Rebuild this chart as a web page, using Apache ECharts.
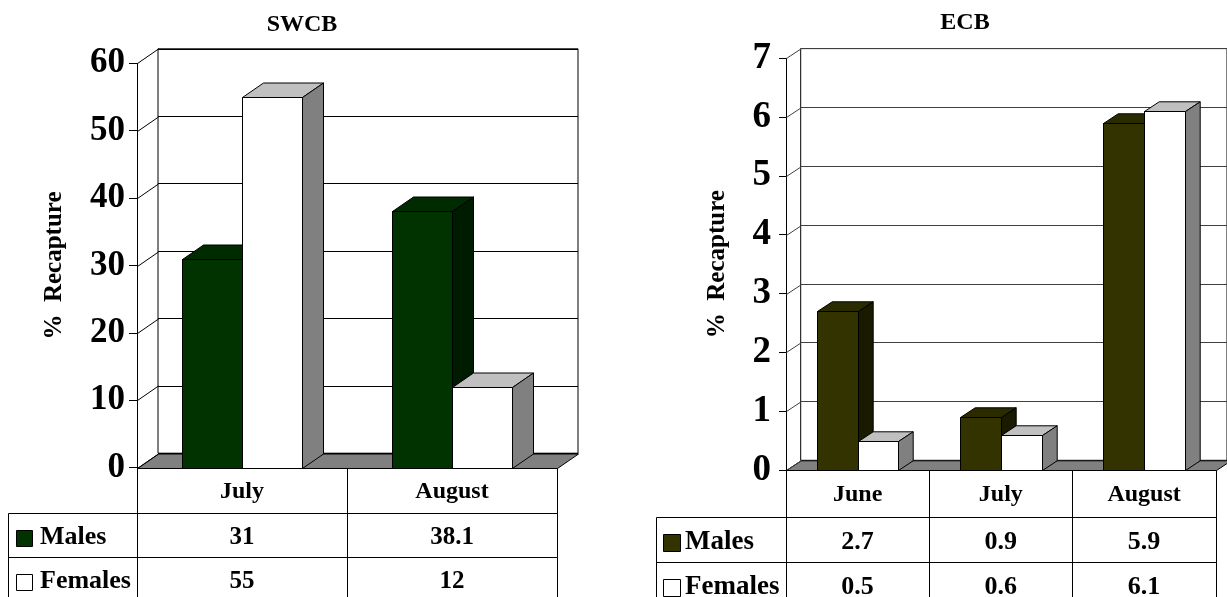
<!DOCTYPE html>
<html>
<head>
<meta charset="utf-8">
<script src="https://cdn.jsdelivr.net/npm/echarts@6/dist/echarts.min.js"></script>
<style>
  html, body { margin: 0; padding: 0; background: #fff; }
  #chart { width: 1227px; height: 597px; }
</style>
</head>
<body>
<div id="chart"></div>
<script>
// Recapture (%) of males and females, by month
const swcbMonths = ['July', 'August'];
const swcbMales = [31, 38.1];
const swcbFemales = [55, 12];
const swcbTicks = [0, 10, 20, 30, 40, 50, 60];

const ecbMonths = ['June', 'July', 'August'];
const ecbMales = [2.7, 0.9, 5.9];
const ecbFemales = [0.5, 0.6, 6.1];
const ecbTicks = [0, 1, 2, 3, 4, 5, 6, 7];

const seriesNames = ['Males', 'Females'];
const axisTitle = '%  Recapture';

const FONT = '"Liberation Serif", "Times New Roman", serif';
const px = v => Math.round(v) + 0.5;

const panels = [
  {
    title: 'SWCB', months: swcbMonths, males: swcbMales, females: swcbFemales, ticks: swcbTicks,
    front: { left: 137, top: 63.3, width: 420, height: 404.4 },
    depth: [21, 14.5], barFrac: 0.287,
    tickFont: 35, labelMargin: 12, tickLen: 8, nameGap: 70, nameFont: 25,
    titlePos: [302, 25],
    tableLeft: 8, rows: [45.6, 43.4, 44], catFont: 24, valFont: 25, legFont: 26,
    keyInset: 8, keySize: 16, textInset: 32,
    gridColor: '#000',
    maleFaces: ['#003300', '#002b00', '#001c00'],
    femaleFaces: ['#ffffff', '#c0c0c0', '#808080']
  },
  {
    title: 'ECB', months: ecbMonths, males: ecbMales, females: ecbFemales, ticks: ecbTicks,
    front: { left: 786, top: 58.3, width: 429.7, height: 411.7 },
    depth: [14.7, 9.7], barFrac: 0.284,
    tickFont: 37, labelMargin: 15, tickLen: 7, nameGap: 56, nameFont: 25,
    titlePos: [965, 23],
    tableLeft: 656, rows: [46.7, 45, 45], catFont: 24, valFont: 26, legFont: 27,
    keyInset: 7, keySize: 17, textInset: 29,
    gridColor: '#404040',
    maleFaces: ['#333300', '#2b2b00', '#1a1a00'],
    femaleFaces: ['#ffffff', '#c0c0c0', '#808080']
  }
];

function textEl(t, x, y, size, align) {
  return {
    type: 'text',
    style: {
      text: t, x: x, y: y, align: align || 'center', verticalAlign: 'middle',
      fontSize: size, fontWeight: 'bold', fontFamily: FONT, fill: '#000'
    }
  };
}

// floor slab and the short edges joining each front tick to the back wall
function frameRenderer(p) {
  return function (params, api) {
    const cs = params.coordSys;
    const dx = p.depth[0], dy = p.depth[1];
    const v = api.value(1);
    const y = px(api.coord([0, v])[1]);
    const x = px(cs.x);
    const children = [];
    if (v === p.ticks[0]) {
      const xr = px(cs.x + cs.width);
      children.push({
        type: 'polygon',
        shape: { points: [[x, y], [xr, y], [xr + dx, y - dy], [x + dx, y - dy]] },
        style: { fill: '#808080', stroke: '#000', lineWidth: 1 }
      });
    }
    children.push({
      type: 'line',
      shape: { x1: x, y1: y, x2: x + dx, y2: y - dy },
      style: { stroke: p.gridColor, lineWidth: 1 }
    });
    return { type: 'group', children: children };
  };
}

// one 3D column: front face, top face, right side face
function barRenderer(p, offset, faces) {
  return function (params, api) {
    const cat = api.value(0), val = api.value(1);
    const base = api.coord([cat, 0]);
    const top = api.coord([cat, val]);
    const w = api.size([1, 0])[0] * p.barFrac;
    const dx = p.depth[0], dy = p.depth[1];
    const x0 = px(base[0] + offset * w), x1 = px(base[0] + (offset + 1) * w);
    const y0 = px(base[1]), y1 = px(top[1]);
    const line = { stroke: '#000', lineWidth: 1 };
    return {
      type: 'group',
      children: [
        { type: 'polygon', shape: { points: [[x0, y1], [x1, y1], [x1, y0], [x0, y0]] },
          style: Object.assign({ fill: faces[0] }, line) },
        { type: 'polygon', shape: { points: [[x0, y1], [x0 + dx, y1 - dy], [x1 + dx, y1 - dy], [x1, y1]] },
          style: Object.assign({ fill: faces[1] }, line) },
        { type: 'polygon', shape: { points: [[x1, y1], [x1 + dx, y1 - dy], [x1 + dx, y0 - dy], [x1, y0]] },
          style: Object.assign({ fill: faces[2] }, line) }
      ]
    };
  };
}

// data table under the plot: month header, then one row per sex
function tableRenderer(p) {
  return function (params, api) {
    const cs = params.coordSys;
    const i = api.value(0);
    const c = api.coord([i, 0]);
    const w = api.size([1, 0])[0];
    const xL = px(c[0] - w / 2), xR = px(c[0] + w / 2);
    const y0 = cs.y + cs.height;
    const ys = [y0, y0 + p.rows[0], y0 + p.rows[0] + p.rows[1], y0 + p.rows[0] + p.rows[1] + p.rows[2]].map(px);
    const cell = (a, b, ya, yb) => ({
      type: 'rect', shape: { x: a, y: ya, width: b - a, height: yb - ya },
      style: { fill: 'none', stroke: '#000', lineWidth: 1 }
    });
    const children = [
      cell(xL, xR, ys[0], ys[1]),
      cell(xL, xR, ys[1], ys[2]),
      cell(xL, xR, ys[2], ys[3]),
      textEl(p.months[i], c[0], (ys[0] + ys[1]) / 2 + 1, p.catFont),
      textEl(String(api.value(1)), c[0], (ys[1] + ys[2]) / 2 + 2, p.valFont),
      textEl(String(api.value(2)), c[0], (ys[2] + ys[3]) / 2 + 2, p.valFont)
    ];
    if (params.dataIndex === 0) {
      const lx = px(p.tableLeft), ax = px(cs.x);
      const keyFaces = [p.maleFaces[0], p.femaleFaces[0]];
      for (let r = 0; r < 2; r++) {
        const ya = ys[r + 1], yb = ys[r + 2];
        const mid = (ya + yb) / 2 + 2;
        children.push(cell(lx, ax, ya, yb));
        children.push({
          type: 'rect',
          shape: { x: px(p.tableLeft + p.keyInset), y: px(mid - p.keySize / 2), width: p.keySize, height: p.keySize },
          style: { fill: keyFaces[r], stroke: '#000', lineWidth: 1 }
        });
        children.push(textEl(seriesNames[r], p.tableLeft + p.textInset, mid, p.legFont, 'left'));
      }
    }
    return { type: 'group', children: children };
  };
}

const option = {
  animation: false,
  backgroundColor: '#fff',
  grid: [], xAxis: [], yAxis: [], series: [], graphic: []
};

panels.forEach(function (p, k) {
  const back = 2 * k, front = 2 * k + 1;
  const yMin = p.ticks[0], yMax = p.ticks[p.ticks.length - 1], step = p.ticks[1] - p.ticks[0];

  // back wall, shifted up and right by the chart depth
  option.grid.push({
    left: p.front.left + p.depth[0], top: p.front.top - p.depth[1],
    width: p.front.width, height: p.front.height,
    show: true, backgroundColor: '#fff', borderColor: '#000', borderWidth: 1
  });
  option.grid.push({
    left: p.front.left, top: p.front.top, width: p.front.width, height: p.front.height
  });

  option.xAxis.push({ gridIndex: back, type: 'category', data: p.months, show: false });
  option.xAxis.push({ gridIndex: front, type: 'category', data: p.months, show: false });

  option.yAxis.push({
    gridIndex: back, type: 'value', min: yMin, max: yMax, interval: step,
    axisLine: { show: false }, axisTick: { show: false }, axisLabel: { show: false },
    splitLine: { show: true, lineStyle: { color: p.gridColor, width: 1 } }
  });
  option.yAxis.push({
    gridIndex: front, type: 'value', min: yMin, max: yMax, interval: step,
    axisLine: { show: true, lineStyle: { color: '#000', width: 1 } },
    axisTick: { show: true, length: p.tickLen, lineStyle: { color: '#000', width: 1 } },
    axisLabel: {
      color: '#000', fontSize: p.tickFont, fontWeight: 'bold', fontFamily: FONT,
      margin: p.labelMargin, padding: [4, 0, 0, 0]
    },
    splitLine: { show: false },
    name: axisTitle, nameLocation: 'middle', nameGap: p.nameGap,
    nameTextStyle: { color: '#000', fontSize: p.nameFont, fontWeight: 'bold', fontFamily: FONT }
  });

  option.series.push({
    type: 'custom', xAxisIndex: front, yAxisIndex: front, z: 2, silent: true,
    renderItem: frameRenderer(p),
    data: p.ticks.map(t => [0, t])
  });
  option.series.push({
    type: 'custom', name: seriesNames[0], xAxisIndex: front, yAxisIndex: front, z: 3, silent: true,
    renderItem: barRenderer(p, -1, p.maleFaces),
    data: p.months.map((m, i) => [i, p.males[i]])
  });
  option.series.push({
    type: 'custom', name: seriesNames[1], xAxisIndex: front, yAxisIndex: front, z: 4, silent: true,
    renderItem: barRenderer(p, 0, p.femaleFaces),
    data: p.months.map((m, i) => [i, p.females[i]])
  });
  option.series.push({
    type: 'custom', xAxisIndex: front, yAxisIndex: front, z: 5, silent: true,
    renderItem: tableRenderer(p),
    data: p.months.map((m, i) => [i, p.males[i], p.females[i]])
  });

  option.graphic.push({
    type: 'text', x: p.titlePos[0], y: p.titlePos[1],
    style: {
      text: p.title, align: 'center', verticalAlign: 'middle',
      fontSize: 24, fontWeight: 'bold', fontFamily: FONT, fill: '#000'
    }
  });
});

const chart = echarts.init(document.getElementById('chart'), null, { renderer: 'canvas' });
chart.setOption(option);
</script>
</body>
</html>
